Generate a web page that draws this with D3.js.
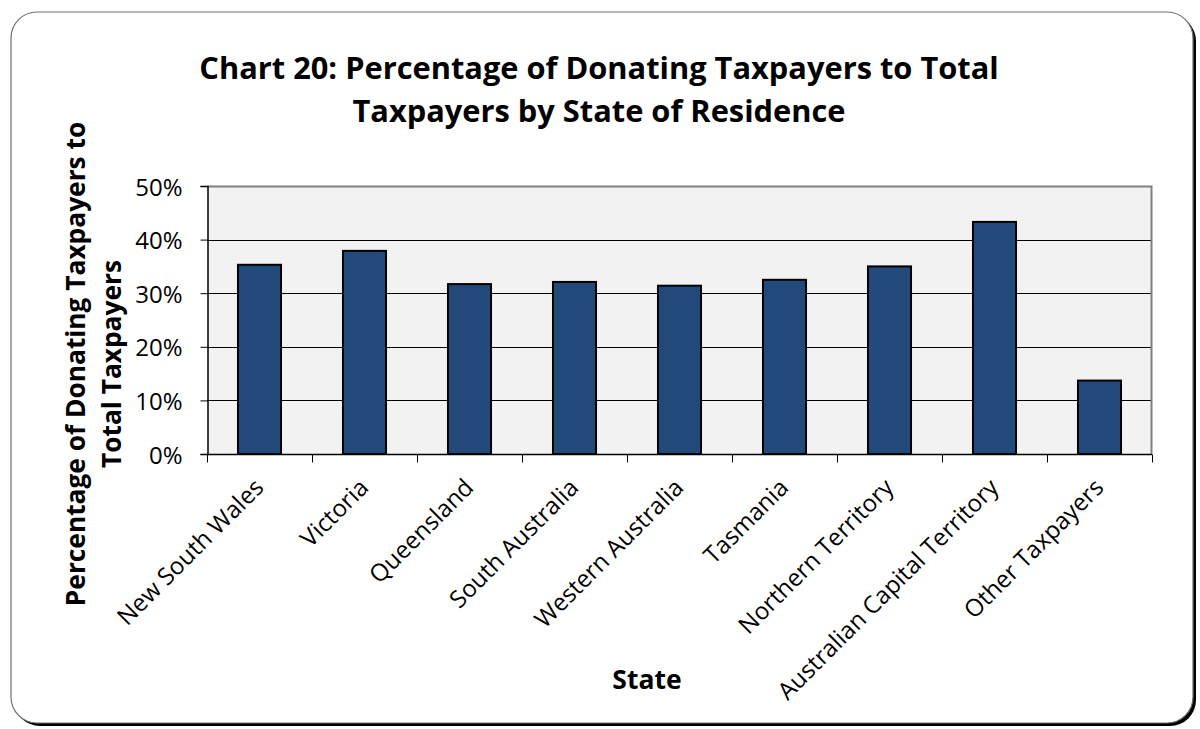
<!DOCTYPE html>
<html>
<head>
<meta charset="utf-8">
<script src="https://cdn.jsdelivr.net/npm/d3@7"></script>
<style>
  html, body { margin: 0; padding: 0; background: #ffffff; }
  svg { display: block; font-family: "Open Sans", Lato, sans-serif; }
</style>
</head>
<body>
<svg id="chart" width="1200" height="729"></svg>
<script>
// Share of taxpayers who claimed a donation, by state of residence
const states = [
  "New South Wales", "Victoria", "Queensland", "South Australia",
  "Western Australia", "Tasmania", "Northern Territory",
  "Australian Capital Territory", "Other Taxpayers"
];
const donatingShare = [0.353, 0.379, 0.317, 0.321, 0.314, 0.325, 0.350, 0.433, 0.137];
const yTicks = [0, 0.1, 0.2, 0.3, 0.4, 0.5];
const titleLines = [
  "Chart 20: Percentage of Donating Taxpayers to Total",
  "Taxpayers by State of Residence"
];
const yTitleLines = ["Percentage of Donating Taxpayers to", "Total Taxpayers"];
const xTitle = "State";

const svg = d3.select("#chart");

// outer frame with drop shadow
svg.append("rect")
  .attr("x", 14).attr("y", 15).attr("width", 1182).attr("height", 711)
  .attr("rx", 26).attr("fill", "#000");
svg.append("rect")
  .attr("x", 11).attr("y", 12).attr("width", 1182).attr("height", 711)
  .attr("rx", 26).attr("fill", "#fff")
  .attr("stroke", "#6f6f6f").attr("stroke-width", 1.2);

const plot = { left: 207, top: 186, right: 1152, bottom: 454 };

const x = d3.scaleBand()
  .domain(states)
  .range([plot.left, plot.right])
  .paddingInner(0.59).paddingOuter(0.295);

const xEdges = d3.scaleBand().domain(states).range([plot.left, plot.right]);

const y = d3.scaleLinear().domain([0, 0.5]).range([plot.bottom, plot.top]);

// plot background
svg.append("rect")
  .attr("x", plot.left).attr("y", plot.top)
  .attr("width", plot.right - plot.left).attr("height", plot.bottom - plot.top)
  .attr("fill", "#f2f2f2");

// horizontal gridlines
svg.append("g")
  .selectAll("line")
  .data(yTicks.filter(t => t > 0 && t < 0.5))
  .join("line")
  .attr("x1", plot.left).attr("x2", plot.right)
  .attr("y1", d => Math.round(y(d)) + 0.5).attr("y2", d => Math.round(y(d)) + 0.5)
  .attr("stroke", "#000").attr("stroke-width", 1);

// top and right plot border
svg.append("path")
  .attr("d", `M${plot.left},${plot.top + 0.5}H${plot.right - 0.5}V${plot.bottom}`)
  .attr("fill", "none").attr("stroke", "#808080").attr("stroke-width", 2);

// bars
svg.append("g")
  .selectAll("rect")
  .data(states.map((s, i) => ({ s, v: donatingShare[i] })))
  .join("rect")
  .attr("x", d => x(d.s))
  .attr("y", d => y(d.v))
  .attr("width", x.bandwidth())
  .attr("height", d => y(0) - y(d.v))
  .attr("fill", "#214a7b")
  .attr("stroke", "#000").attr("stroke-width", 2);

// y axis
const yAxis = d3.axisLeft(y)
  .tickValues(yTicks)
  .tickFormat(d3.format(".0%"))
  .tickSize(7).tickPadding(18);
const gy = svg.append("g")
  .attr("transform", `translate(${plot.left + 0.5},0)`)
  .call(yAxis);
gy.select(".domain").attr("stroke", "#000").attr("stroke-width", 1.5);
gy.selectAll(".tick line").attr("stroke", "#000");
gy.selectAll(".tick text")
  .attr("font-size", 24).attr("fill", "#000").attr("dy", "0.38em")
  .style("font-family", "'Open Sans', sans-serif");

// x axis with ticks at category boundaries
const gx = svg.append("g")
  .attr("transform", `translate(0,${plot.bottom + 0.5})`);
gx.append("line")
  .attr("x1", plot.left).attr("x2", plot.right)
  .attr("stroke", "#000").attr("stroke-width", 1.5);
gx.selectAll("line.tk")
  .data(states.map(s => xEdges(s)).concat([plot.right]))
  .join("line").attr("class", "tk")
  .attr("x1", d => d + 0.5).attr("x2", d => d + 0.5)
  .attr("y1", 0).attr("y2", 8)
  .attr("stroke", "#000").attr("stroke-width", 1);

// rotated category labels
svg.append("g")
  .selectAll("text")
  .data(states)
  .join("text")
  .attr("transform", d => `translate(${x(d) + x.bandwidth() / 2 + 5.5},${plot.bottom + 35}) rotate(-45)`)
  .attr("text-anchor", "end")
  .attr("font-size", 24)
  .attr("fill", "#000")
  .text(d => d);

// title
svg.append("text")
  .attr("x", 599).attr("y", 79)
  .attr("text-anchor", "middle")
  .attr("font-size", 30.8).attr("font-weight", "bold")
  .selectAll("tspan")
  .data(titleLines)
  .join("tspan")
  .attr("x", 599)
  .attr("dy", (d, i) => i === 0 ? 0 : 43)
  .text(d => d);

// y axis title
svg.append("text")
  .attr("transform", "translate(85,364) rotate(-90)")
  .attr("text-anchor", "middle")
  .attr("font-size", 26.3).attr("font-weight", "bold")
  .selectAll("tspan")
  .data(yTitleLines)
  .join("tspan")
  .attr("x", 0)
  .attr("dy", (d, i) => i === 0 ? 0 : 36)
  .text(d => d);

// x axis title
svg.append("text")
  .attr("x", 647).attr("y", 689)
  .attr("text-anchor", "middle")
  .attr("font-size", 26.5).attr("font-weight", "bold")
  .text(xTitle);
</script>
</body>
</html>
